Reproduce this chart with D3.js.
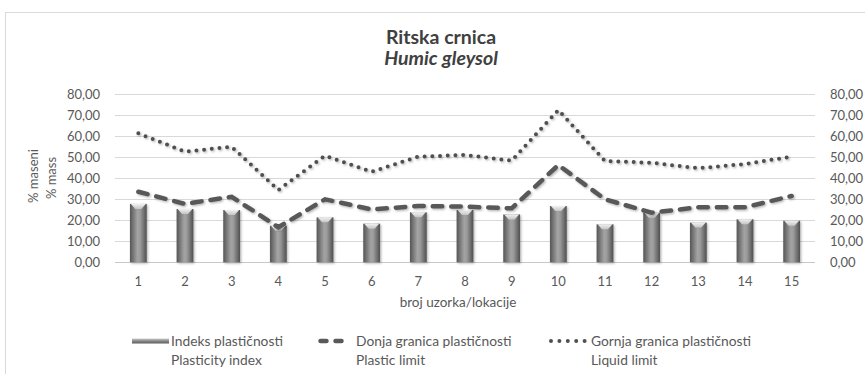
<!DOCTYPE html>
<html>
<head>
<meta charset="utf-8">
<script src="https://cdn.jsdelivr.net/npm/d3@7"></script>
<style>
  html, body { margin: 0; padding: 0; background: #ffffff; }
  svg { display: block; font-family: Lato, "Open Sans", sans-serif; }
</style>
</head>
<body>
<svg id="chart" width="865" height="374"></svg>
<script>
// Sample numbers (locations 1–15)
const categories = ["1","2","3","4","5","6","7","8","9","10","11","12","13","14","15"];
// Indeks plastičnosti / Plasticity index
const plasticityIndex = [27.8, 25.4, 24.9, 17.4, 21.4, 18.4, 23.8, 24.9, 22.8, 26.8, 18.1, 23.6, 18.9, 20.5, 19.8];
// Donja granica plastičnosti / Plastic limit
const plasticLimit = [33.6, 27.8, 31.2, 16.7, 30.0, 25.2, 26.8, 26.5, 25.7, 46.3, 30.0, 23.6, 26.2, 26.2, 31.6];
// Gornja granica plastičnosti / Liquid limit
const liquidLimit = [61.4, 52.7, 55.0, 34.4, 50.8, 43.1, 50.3, 51.1, 48.4, 72.5, 48.2, 47.4, 44.8, 46.8, 50.3];
// Value axis ticks
const yTicks = [0, 10, 20, 30, 40, 50, 60, 70, 80];

const svg = d3.select("#chart");
const fmt = d => d.toFixed(2).replace(".", ",");

const plot = { left: 115, right: 815, top: 94.3, bottom: 262.3 };

const x = d3.scaleBand().domain(categories).range([plot.left, plot.right]).padding(0);
const y = d3.scaleLinear().domain([0, 80]).range([plot.bottom, plot.top]);

// Definitions: bar gradient, top bevel gradient, soft shadow
const defs = svg.append("defs");
const barGrad = defs.append("linearGradient").attr("id", "barGrad")
  .attr("x1", "0%").attr("x2", "100%").attr("y1", "0%").attr("y2", "0%");
[[0, "#555555"], [0.12, "#6a6a6a"], [0.45, "#a3a3a3"], [0.6, "#9c9c9c"], [0.88, "#666666"], [1, "#505050"]]
  .forEach(([o, c]) => barGrad.append("stop").attr("offset", o).attr("stop-color", c));
const capGrad = defs.append("linearGradient").attr("id", "capGrad")
  .attr("x1", "0%").attr("x2", "0%").attr("y1", "0%").attr("y2", "100%");
[[0, "#f2f2f2"], [1, "#c4c4c4"]]
  .forEach(([o, c]) => capGrad.append("stop").attr("offset", o).attr("stop-color", c));
const legGrad = defs.append("linearGradient").attr("id", "legGrad")
  .attr("x1", "0%").attr("x2", "0%").attr("y1", "0%").attr("y2", "100%");
[[0, "#d0d0d0"], [0.35, "#9a9a9a"], [1, "#5a5a5a"]]
  .forEach(([o, c]) => legGrad.append("stop").attr("offset", o).attr("stop-color", c));
const shadow = defs.append("filter").attr("id", "shadow")
  .attr("x", "-10%").attr("y", "-30%").attr("width", "130%").attr("height", "160%");
shadow.append("feDropShadow").attr("dx", 1.2).attr("dy", 1.2)
  .attr("stdDeviation", 1).attr("flood-color", "#000").attr("flood-opacity", 0.3);

// Chart area border
svg.append("rect")
  .attr("x", 5.5).attr("y", 12.5).attr("width", 880).attr("height", 380)
  .attr("fill", "none").attr("stroke", "#d9d9d9").attr("stroke-width", 1);

// Titles
svg.append("text").attr("x", 441).attr("y", 43.5)
  .attr("text-anchor", "middle").attr("font-size", 19.5).attr("font-weight", "bold")
  .attr("fill", "#404040").text("Ritska crnica");
svg.append("text").attr("x", 441).attr("y", 64.5)
  .attr("text-anchor", "middle").attr("font-size", 19.5).attr("font-weight", "bold")
  .attr("font-style", "italic").attr("fill", "#404040").text("Humic gleysol");

// Horizontal gridlines
svg.append("g").selectAll("line").data(yTicks).join("line")
  .attr("x1", plot.left).attr("x2", plot.right)
  .attr("y1", d => Math.round(y(d)) + 0.5).attr("y2", d => Math.round(y(d)) + 0.5)
  .attr("stroke", d => d === 0 ? "#c8c8c8" : "#d9d9d9").attr("stroke-width", 1);

// Left and right value axes
const leftAxis = svg.append("g").attr("transform", `translate(${plot.left},0)`)
  .call(d3.axisLeft(y).tickValues(yTicks).tickFormat(fmt).tickSize(0).tickPadding(15));
const rightAxis = svg.append("g").attr("transform", `translate(${plot.right},0)`)
  .call(d3.axisRight(y).tickValues(yTicks).tickFormat(fmt).tickSize(0).tickPadding(15));
[leftAxis, rightAxis].forEach(g => {
  g.select(".domain").remove();
  g.selectAll("text").attr("font-size", 13).attr("fill", "#595959").attr("font-family", "Lato, sans-serif");
});

// Category axis
const bottomAxis = svg.append("g").attr("transform", `translate(0,${plot.bottom})`)
  .call(d3.axisBottom(x).tickSize(0).tickPadding(14));
bottomAxis.select(".domain").remove();
bottomAxis.selectAll("text").attr("font-size", 13).attr("fill", "#595959").attr("font-family", "Lato, sans-serif");

// Axis titles
svg.append("text").attr("x", 458).attr("y", 307)
  .attr("text-anchor", "middle").attr("font-size", 13.5).attr("fill", "#595959")
  .text("broj uzorka/lokacije");
svg.append("text").attr("transform", "translate(38,176) rotate(-90)")
  .attr("text-anchor", "middle").attr("font-size", 13).attr("fill", "#595959")
  .text("% maseni");
svg.append("text").attr("transform", "translate(56,178) rotate(-90)")
  .attr("text-anchor", "middle").attr("font-size", 13).attr("fill", "#595959")
  .text("% mass");

// Bars: plasticity index
const barW = x.bandwidth() * 0.36;
const bars = svg.append("g").attr("filter", "url(#shadow)")
  .selectAll("g").data(plasticityIndex).join("g");
bars.append("rect")
  .attr("x", (d, i) => x(categories[i]) + (x.bandwidth() - barW) / 2)
  .attr("y", d => y(d))
  .attr("width", barW)
  .attr("height", d => y(0) - y(d))
  .attr("fill", "url(#barGrad)");
bars.append("path")
  .attr("d", (d, i) => {
    const x0 = x(categories[i]) + (x.bandwidth() - barW) / 2;
    const t = y(d);
    return `M${x0 + 1},${t} L${x0 + barW - 1},${t} L${x0 + barW / 2 + 3},${t + 5} L${x0 + barW / 2 - 3},${t + 5} Z`;
  })
  .attr("fill", "url(#capGrad)");

// Lines
const cx = (d, i) => x(categories[i]) + x.bandwidth() / 2;
const lineGen = d3.line().x(cx).y(d => y(d));

svg.append("path").datum(plasticLimit)
  .attr("d", lineGen).attr("fill", "none")
  .attr("stroke", "#595959").attr("stroke-width", 4.5)
  .attr("stroke-dasharray", "9.5,9").attr("stroke-linecap", "round")
  .attr("filter", "url(#shadow)");

svg.append("path").datum(liquidLimit)
  .attr("d", lineGen).attr("fill", "none")
  .attr("stroke", "#505050").attr("stroke-width", 4)
  .attr("stroke-dasharray", "0,7.7").attr("stroke-linecap", "round")
  .attr("filter", "url(#shadow)");

// Legend
const leg = svg.append("g");
leg.append("rect").attr("x", 132).attr("y", 338.5).attr("width", 37).attr("height", 5)
  .attr("fill", "url(#legGrad)");
leg.append("line").attr("x1", 320.5).attr("x2", 350).attr("y1", 341).attr("y2", 341)
  .attr("stroke", "#595959").attr("stroke-width", 4.5)
  .attr("stroke-dasharray", "6,9").attr("stroke-linecap", "round");
leg.append("line").attr("x1", 551).attr("x2", 586).attr("y1", 341).attr("y2", 341)
  .attr("stroke", "#505050").attr("stroke-width", 4)
  .attr("stroke-dasharray", "0,8.4").attr("stroke-linecap", "round");

const legendText = [
  { x: 171, lines: ["Indeks plastičnosti", "Plasticity index"] },
  { x: 356, lines: ["Donja granica plastičnosti", "Plastic limit"] },
  { x: 591, lines: ["Gornja granica plastičnosti", "Liquid limit"] }
];
legendText.forEach(item => {
  item.lines.forEach((t, j) => {
    leg.append("text").attr("x", item.x).attr("y", 346 + j * 18.5)
      .attr("font-size", 13.8).attr("fill", "#595959").text(t);
  });
});
</script>
</body>
</html>
